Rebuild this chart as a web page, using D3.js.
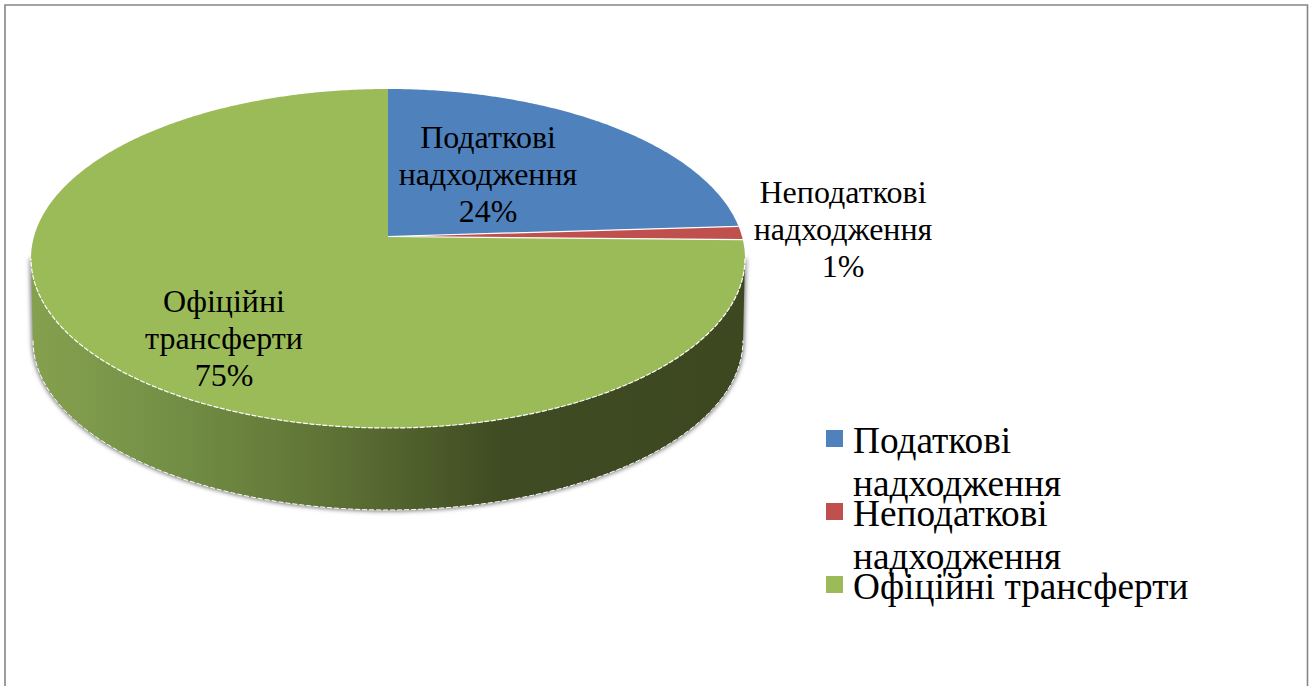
<!DOCTYPE html>
<html><head><meta charset="utf-8">
<script src="https://cdnjs.cloudflare.com/ajax/libs/d3/7.8.5/d3.min.js"></script>
<style>html,body{margin:0;padding:0;background:#fff;overflow:hidden}svg{display:block}text{font-family:"Liberation Serif",serif;fill:#000}</style>
</head><body><svg id="c" width="1309" height="686"></svg>
<script>
const categories = ["Податкові надходження", "Неподаткові надходження", "Офіційні трансферти"];
const values = [24, 1.3, 74.7];
const percentLabels = ["24%", "1%", "75%"];
const colors = ["#4f81bd", "#c0504d", "#9bbb59"];
const labelCenters = [[488, 148], [843, 203], [224, 312]];
const legendLines = [["Податкові", "надходження"], ["Неподаткові", "надходження"], ["Офіційні трансферти"]];
const legendBaselines = [[453, 496], [526, 569], [599]];
const legendSwatchTops = [430, 503, 576];

const svg = d3.select("#c");
const defs = svg.append("defs");
const geo = {cx: 388, cy: 258.5, rx: 357, ry: 169.5, ax: 388, ay: 236.5, k: 164, depth: 82};

const grad = defs.append("linearGradient").attr("id", "wall").attr("gradientUnits", "userSpaceOnUse")
  .attr("x1", 31).attr("x2", 745).attr("y1", 0).attr("y2", 0);
[[0, "#85a14e"], [0.2, "#738f45"], [0.42, "#5e7235"], [0.66, "#3f4b22"], [1, "#3d4820"]]
  .forEach(([o, c]) => grad.append("stop").attr("offset", o).attr("stop-color", c));
const blur = defs.append("filter").attr("id", "shadow").attr("x", "-5%").attr("y", "-5%").attr("width", "110%").attr("height", "110%");
blur.append("feGaussianBlur").attr("stdDeviation", 2.2);

function rim(theta) {
  const dx = Math.sin(theta) * geo.rx, dy = -Math.cos(theta) * geo.k;
  const ox = (geo.ax - geo.cx) / geo.rx, oy = (geo.ay - geo.cy) / geo.ry;
  const ux = dx / geo.rx, uy = dy / geo.ry;
  const a = ux * ux + uy * uy, b = 2 * (ox * ux + oy * uy), c = ox * ox + oy * oy - 1;
  const t = (-b + Math.sqrt(b * b - 4 * a * c)) / (2 * a);
  return [geo.ax + t * dx, geo.ay + t * dy];
}
const line = d3.line();
const arcs = d3.pie().sort(null)(values);

// side wall
const ell = (t, cy, rx, ry) => [geo.cx + rx * Math.cos(t), cy + ry * Math.sin(t)];
const topEdge = d3.range(0, 181, 2).map(d => ell(d * Math.PI / 180, geo.cy, geo.rx, geo.ry));
const botEdge = d3.range(180, -1, -2).map(d => ell(d * Math.PI / 180, geo.cy + geo.depth, geo.rx - 2, geo.ry));
const wall = line(topEdge.concat(botEdge)) + "Z";
svg.append("path").attr("d", wall).attr("fill", "#808080").attr("stroke", "#808080").attr("stroke-width", 3).attr("filter", "url(#shadow)");
svg.append("path").attr("d", wall).attr("fill", "url(#wall)");
svg.append("path").attr("d", line(botEdge)).attr("fill", "none").attr("stroke", "#fff").attr("stroke-width", 1).attr("stroke-dasharray", "5 2");

// top face
arcs.forEach((a, i) => {
  const n = Math.ceil((a.endAngle - a.startAngle) / 0.01);
  const pts = d3.range(n + 1).map(j => rim(a.startAngle + (a.endAngle - a.startAngle) * j / n));
  svg.append("path").attr("d", line([[geo.ax, geo.ay], ...pts]) + "Z").attr("fill", colors[i]);
});
// seams and rim
arcs.slice(0, 2).forEach(a => {
  svg.append("path").attr("d", line([[geo.ax, geo.ay], rim(a.endAngle)]))
    .attr("stroke", "#fff").attr("stroke-width", 1.2).attr("fill", "none");
});
svg.append("path").attr("d", line(topEdge)).attr("fill", "none").attr("stroke", "#fff").attr("stroke-width", 1.2).attr("stroke-dasharray", "5 1.5");

// data labels
const labelSize = 32, labelStep = 37;
categories.forEach((c, i) => {
  const lines = c.split(" ").concat(percentLabels[i]);
  const t = svg.append("text").attr("text-anchor", "middle").attr("font-size", labelSize);
  lines.forEach((l, j) => t.append("tspan").attr("x", labelCenters[i][0]).attr("y", labelCenters[i][1] + j * labelStep).text(l));
});

// legend
legendLines.forEach((ls, i) => {
  svg.append("rect").attr("x", 826).attr("y", legendSwatchTops[i]).attr("width", 17).attr("height", 17).attr("fill", colors[i]);
  ls.forEach((l, j) => svg.append("text").attr("x", 853).attr("y", legendBaselines[i][j]).attr("font-size", 37.3).text(l));
});

// frame
svg.append("path").attr("d", line([[5, 686], [5, 5], [1307.5, 5], [1307.5, 686]])).attr("fill", "none").attr("stroke", "#868686").attr("stroke-width", 1.6);
</script></body></html>
